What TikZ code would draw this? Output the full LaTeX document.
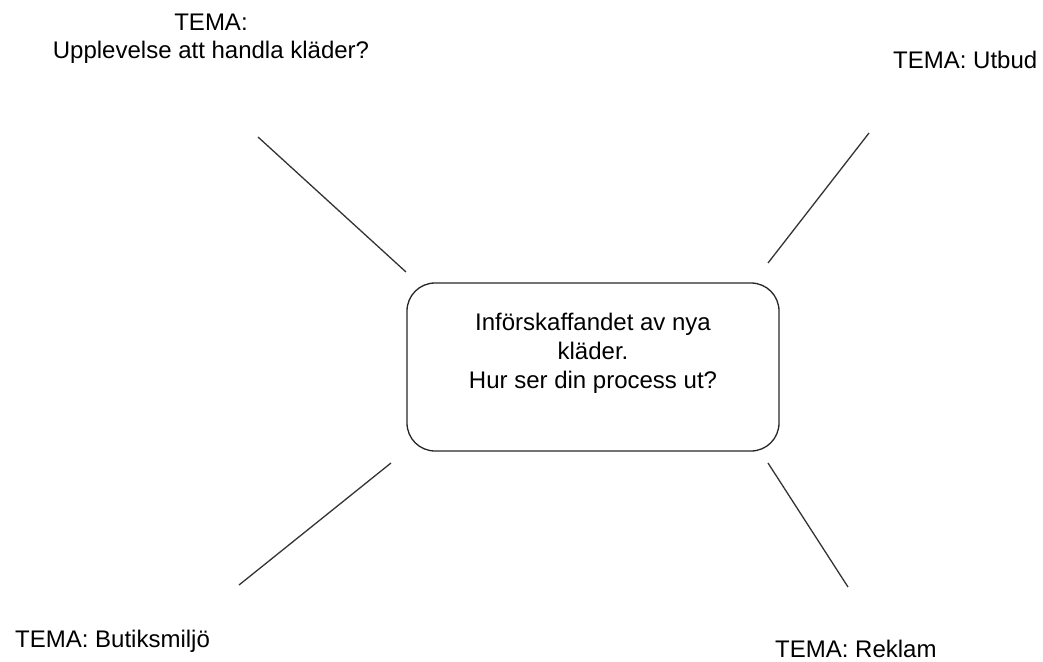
\documentclass[tikz,border=0pt]{standalone}
\usepackage{fontspec}
\setmainfont{Liberation Sans}
\usetikzlibrary{positioning}

\begin{document}
\begin{tikzpicture}[x=1pt, y=-1pt, font=\fontsize{24}{28}\selectfont,
                    theme/.style={anchor=base, align=center, inner sep=0pt},
                    spoke/.style={line width=1.3pt, draw=black!80},
                    hub/.style={draw=black!85, line width=1.3pt, rounded corners=28pt,
                                minimum width=372pt, minimum height=168pt}]
  \useasboundingbox (0,0) rectangle (1043,661);
  % centre question
  \node[hub] (hub) at (593,367) {};
  \node[align=center, inner sep=0pt, font=\fontsize{24}{29}\selectfont] (question) at (593,353)
    {Införskaffandet av nya\\kläder.\\Hur ser din process ut?};
  % themes (base = last line)
  \node[theme] (upplevelse) at (211,59) {TEMA:\\Upplevelse att handla kläder?};
  \node[theme, anchor=base west] (utbud) at (893,68) {TEMA: Utbud};
  \node[theme, anchor=base west] (miljo) at (15,647) {TEMA: Butiksmiljö};
  \node[theme, anchor=base west] (reklam) at (775,657) {TEMA: Reklam};
  % spokes (free-standing, not touching box or labels)
  \coordinate (a1) at (258,137); \coordinate (a2) at (406,272);
  \coordinate (b1) at (869,133); \coordinate (b2) at (768,263);
  \coordinate (c1) at (391,463); \coordinate (c2) at (239,585);
  \coordinate (d1) at (768,463); \coordinate (d2) at (848,587);
  \draw[spoke] (a1) -- (a2);
  \draw[spoke] (b1) -- (b2);
  \draw[spoke] (c1) -- (c2);
  \draw[spoke] (d1) -- (d2);
\end{tikzpicture}
\end{document}
